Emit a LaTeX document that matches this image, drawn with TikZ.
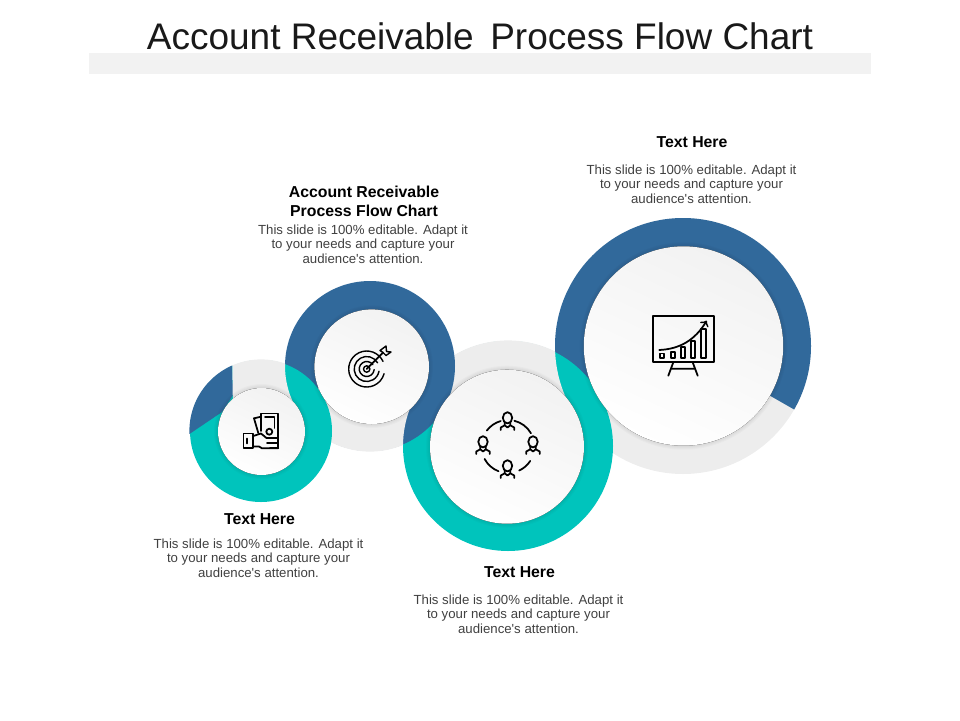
\documentclass[tikz,border=0pt]{standalone}
\usepackage{fontspec}
\setmainfont{Liberation Sans}
\definecolor{ringblue}{HTML}{31699B}
\definecolor{ringteal}{HTML}{00C4BC}
\definecolor{ringgray}{HTML}{EDEDED}
\definecolor{bargray}{HTML}{F2F2F2}
\definecolor{bodygray}{HTML}{404040}
\tikzset{
    heading/.style={font=\bfseries\fontsize{9}{10.8}\selectfont,align=center,text=black,inner sep=0pt},
    bodytext/.style={font=\fontsize{7.52}{8.35}\selectfont,align=center,text=bodygray,inner sep=0pt},
    icon/.style={draw=black,line width=1pt,line cap=round,line join=round}
}
\newcommand{\bodylines}{This slide is 100\% editable. Adapt it\\to your needs and capture your\\audience\textquotesingle s attention.}
\begin{document}
\begin{tikzpicture}[x=0.02cm,y=-0.02cm]
    \useasboundingbox (0,0) rectangle (960,720);
    \coordinate (C1) at (261,431);
    \coordinate (C2) at (370,366);
    \coordinate (C3) at (508,446);
    \coordinate (C4) at (683,346);

    \fill[bargray] (89,53) rectangle (871,74);
    \node[font=\fontsize{21.05}{24}\selectfont,text=black!90,inner sep=0pt] (title) at (480,36) {Account Receivable\hspace{0.17em} Process Flow Chart};

    \fill[ringgray] (C4) circle[radius=128];
    \begin{scope}
        \clip (C4) circle[radius=128];
        \fill[ringblue] (C4) -- (581,423) -- (500,400) -- (500,150) -- (900,150) -- (900,470) -- cycle;
    \end{scope}

    \fill[ringteal] (C3) circle[radius=105];
    \begin{scope}[even odd rule]
        \clip (C3) circle[radius=105.6];
        \clip (0,0) rectangle (960,720) (C4) circle[radius=128];
        \fill[ringgray] (445,425) -- (420,330) -- (600,330) -- (565,415) -- cycle;
    \end{scope}

    \fill[ringblue] (C2) circle[radius=85];
    \begin{scope}[even odd rule]
        \clip (C2) circle[radius=85.6];
        \clip (0,0) rectangle (960,720) (C3) circle[radius=105];
        \fill[ringgray] (320,380) -- (410,395) -- (430,470) -- (300,470) -- cycle;
    \end{scope}

    \fill[ringteal] (C1) circle[radius=71];
    \begin{scope}[even odd rule]
        \clip (C1) circle[radius=71.6];
        \fill[ringblue] (185,437) -- (222,412) -- (233,395) -- (232,350) -- (170,350) -- (170,437) -- cycle;
        \clip (0,0) rectangle (960,720) (C2) circle[radius=85];
        \fill[ringgray] (232,350) -- (233,410) -- (310,415) -- (310,350) -- cycle;
    \end{scope}

    \foreach \cx/\cy/\r in {261.5/431.5/43.5,371.7/366.7/57.3,507/446.7/77,683.5/346/99.7} {
        \foreach \s in {1,...,4} {
            \fill[black,opacity=0.018] (\cx,\cy) circle[radius=\r+\s];
        }
        \fill[top color=bargray,bottom color=white!98!bargray,shading angle=-25] (\cx,\cy) circle[radius=\r];
    }

    % money
    \draw[icon] (261,431) -- (261,413.5) -- (278.3,413.5) -- (278.3,448.3) -- (270,448.3);
    \draw[icon] (261,416.7) -- (254,418.3) -- (258.3,433);
    \draw[icon] (269.3,431.7) circle[radius=3];
    \draw[icon] (265,417) -- (274.5,417) -- (274.5,428);
    \draw[icon] (243.5,433.5) rectangle (253.3,447.8);
    \draw[icon] (247.3,438.5) -- (247.3,443.5);
    \draw[icon] (253.3,436) -- (261,433.5) -- (266.5,438) -- (277,438) (277,443) -- (267,443) (253.3,446.5) -- (259,446.5) -- (262,448.3) -- (278.3,448.3);

    % target
    \foreach \r/\a in {18/-25,12.5/-30,7.5/-35} {
        \draw[icon,line width=0.8pt] (366.7,369) ++(\a:\r) arc[start angle=\a,end angle=\a-320,radius=\r];
    }
    \draw[icon,line width=0.8pt] (366.7,369) circle[radius=3.2];
    \draw[icon] (366.7,369) -- (383,352.5);
    \draw[icon,line width=0.8pt] (380,350.5) -- (383,352.5) -- (386,355.5) -- (391,352) -- (386.5,351.5) -- (386,346) -- (380,350.5);

    % people
    \foreach \px/\py in {507.5/421,507.5/469,483/445,533/445} {
        \begin{scope}[shift={(\px,\py)}]
            \draw[icon] (0,-3.2) ellipse[x radius=4.7,y radius=5.6];
            \draw[icon] (-6.7,9) -- (-6.7,6.5) -- (-2.8,4.3) -- (-2.8,1.8) (6.7,9) -- (6.7,6.5) -- (2.8,4.3) -- (2.8,1.8) (-2.8,4.3) -- (0,6.5) -- (2.8,4.3);
        \end{scope}
    }
    \foreach \as/\ae in {-143/-106,-76/-30,33/65,111/152} {
        \draw[icon] (508,446.5) ++(\as:26.5) arc[start angle=\as,end angle=\ae,radius=26.5];
    }

    % chart
    \draw[icon] (652.7,315.7) rectangle (713.7,362.3);
    \draw[icon] (673.3,362.3) -- (668.3,375.7) (692.7,362.3) -- (697.7,375.7) (671,368.7) -- (695,368.7);
    \foreach \bl/\br/\bt in {660/664.3/353.5,670.7/675.3/351.7,680.7/685.3/346.7,690.7/695.3/340.7,700.7/706/329.3} {
        \draw[icon] (\bl,358.3) rectangle (\br,\bt);
    }
    \draw[icon,->] (659.3,350) .. controls (680,349) and (695,340) .. (706.7,320.7);

    \node[heading] (headD) at (692,142) {Text Here};
    \node[bodytext] (bodyD) at (691.5,184) {\bodylines};
    \node[heading] (headB) at (364,201.5) {Account Receivable\\Process Flow Chart};
    \node[bodytext] (bodyB) at (363,244) {\bodylines};
    \node[heading] (headA) at (259.5,519) {Text Here};
    \node[bodytext] (bodyA) at (258.5,558) {\bodylines};
    \node[heading] (headC) at (519.5,572) {Text Here};
    \node[bodytext] (bodyC) at (518.5,614) {\bodylines};
\end{tikzpicture}
\end{document}
